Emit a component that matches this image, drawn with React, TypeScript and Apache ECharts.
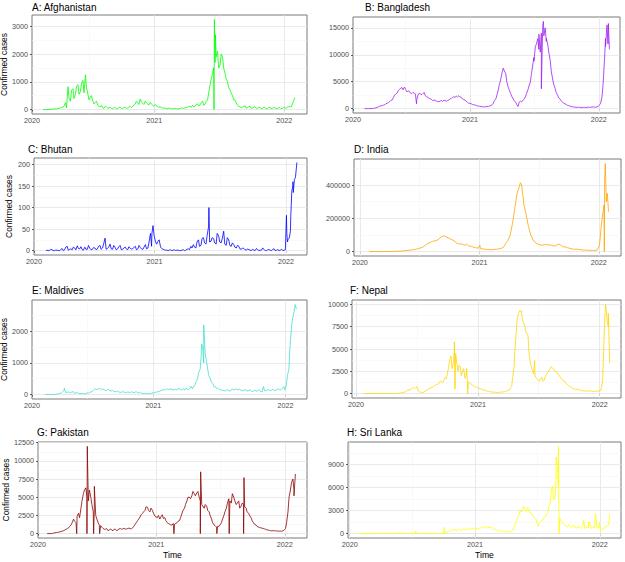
import React, { useEffect, useRef } from "react";
import * as echarts from "echarts";

// ---------- data ----------
// weekly readings from 2020-02-24 (step 7 days) and mid-week readings from 2020-02-27 (step 7 days)
const WEEK0 = "2020-02-24";
const MID0 = "2020-02-27";

const afghanistan = [
  0, 1, 2, 5, 10, 20, 30, 60, 90, 250,
  820, 300, 750, 550, 900, 650, 1050, 1250, 550, 450,
  300, 250, 150, 100, 60, 120, 40, 80, 30, 60,
  40, 70, 50, 80, 60, 110, 120, 200, 250, 380,
  220, 300, 200, 260, 150, 180, 110, 100, 60, 50,
  30, 40, 20, 30, 20, 40, 50, 60, 80, 100,
  150, 120, 200, 170, 300, 200, 350, 900, 1300, 1700,
  2100, 1600, 1900, 1300, 1000, 700, 500, 350, 150, 100,
  80, 130, 60, 120, 50, 100, 40, 80, 40, 70,
  30, 90, 40, 60, 30, 70, 40, 60, 90, 120,
  200, 430,
];
const afghanistanMid = [
  0, 1, 3, 8, 15, 25, 45, 70, 120, 60,
  400, 700, 400, 850, 550, 950, 600, 800, 350, 500,
  200, 300, 100, 150, 40, 90, 60, 40, 70, 30,
  80, 40, 60, 40, 90, 70, 160, 300, 180, 280,
  180, 250, 160, 200, 120, 130, 80, 70, 40, 30,
  50, 25, 40, 30, 30, 60, 40, 70, 120, 80,
  100, 180, 130, 250, 150, 280, 600, 1100, 1500, 1900,
  1500, 2000, 1500, 1100, 800, 600, 350, 250, 120, 70,
  120, 50, 100, 40, 90, 50, 70, 30, 80, 30,
  60, 30, 70, 40, 60, 30, 80, 40, 100, 80,
  300,
];
const afghanistanExtra: [string, number][] = [
  ["2021-06-18", 0], ["2021-06-19", 3250], ["2021-06-22", 2700],
];

const bangladesh = [
  0, 0, 1, 5, 3, 10, 100, 250, 450, 550,
  700, 1000, 1300, 1600, 2500, 2900, 3600, 3900, 4000, 3100,
  3200, 2800, 2900, 1700, 2900, 2600, 3000, 2200, 1900, 1700,
  1600, 1400, 1300, 1500, 1600, 1400, 1600, 1900, 2200, 2300,
  2400, 2100, 1700, 1400, 1000, 900, 700, 600, 450, 400,
  350, 350, 400, 550, 1000, 1800, 3500, 5500, 7500, 6500,
  4000, 2800, 1800, 1200, 400, 1400, 1500, 2200, 3500, 5000,
  8300, 11500, 13000, 10500, 15500, 15000, 12000, 9000, 5500, 3800,
  2500, 1800, 1200, 900, 600, 500, 350, 300, 250, 250,
  200, 250, 250, 250, 300, 300, 350, 700, 2200, 9000,
  15500, 11000,
];
const bangladeshMid = [
  0, 0, 2, 4, 8, 50, 150, 350, 500, 650,
  900, 1100, 1500, 2000, 2700, 3300, 3800, 3500, 3600, 3300,
  2900, 3000, 2700, 2500, 2700, 2800, 2400, 2100, 1800, 1500,
  1500, 1300, 1400, 1300, 1500, 1500, 1800, 2100, 2100, 2200,
  2200, 1800, 1600, 1200, 1000, 800, 700, 500, 450, 350,
  350, 400, 500, 700, 1500, 2500, 4500, 6500, 7000, 5000,
  3500, 2300, 1500, 800, 1200, 1300, 1800, 2800, 4200, 6500,
  9500, 12000, 11000, 14000, 13500, 12500, 10500, 7000, 4500, 3000,
  2000, 1500, 1000, 800, 550, 400, 300, 250, 250, 200,
  250, 200, 300, 250, 300, 250, 400, 1000, 4500, 13000,
  12000,
];
const bangladeshExtra: [string, number][] = [
  ["2020-08-02", 900], ["2021-07-01", 8800], ["2021-07-15", 13800], ["2021-07-22", 3700],
  ["2021-07-28", 16200], ["2021-08-05", 13000], ["2022-01-20", 11500], ["2022-01-28", 15800],
];

const bhutan = [
  0, 0, 1, 0, 2, 0, 1, 0, 5, 2,
  10, 3, 2, 6, 11, 4, 2, 8, 3, 5,
  3, 6, 4, 12, 6, 29, 5, 15, 3, 7,
  4, 12, 3, 8, 2, 6, 5, 10, 4, 7,
  3, 14, 6, 40, 58, 20, 22, 8, 3, 1,
  0, 2, 1, 0, 1, 0, 2, 1, 4, 10,
  14, 6, 25, 12, 30, 15, 55, 22, 28, 15,
  34, 18, 45, 12, 25, 10, 14, 6, 10, 3,
  5, 1, 2, 0, 1, 5, 0, 1, 3, 0,
  2, 0, 4, 1, 0, 3, 1, 40, 30, 140,
  165, 205,
];
const bhutanMid = [
  0, 0, 0, 3, 0, 1, 0, 2, 0, 8,
  1, 4, 8, 2, 5, 9, 1, 3, 12, 2,
  7, 2, 10, 3, 15, 3, 8, 4, 12, 2,
  9, 2, 6, 4, 9, 3, 7, 2, 12, 4,
  8, 4, 20, 10, 35, 15, 25, 5, 2, 1,
  1, 0, 2, 1, 0, 1, 0, 3, 2, 6,
  8, 20, 10, 28, 18, 35, 20, 30, 18, 40,
  20, 28, 15, 30, 12, 18, 8, 12, 4, 6,
  2, 4, 1, 3, 0, 2, 1, 6, 0, 2,
  1, 3, 0, 2, 1, 0, 2, 25, 45, 150,
  170,
];
const bhutanExtra: [string, number][] = [
  ["2020-12-25", 40], ["2021-06-01", 100], ["2022-01-02", 82], ["2022-01-05", 20],
  ["2022-01-14", 80], ["2022-01-20", 160], ["2022-01-21", 135],
];

const india = [
  0, 3, 10, 20, 80, 200, 700, 900, 1500, 1800,
  2800, 3600, 5500, 7000, 8500, 10000, 12000, 15000, 18000, 23000,
  29000, 38000, 49000, 54000, 62000, 64000, 68000, 78000, 90000, 95000,
  88000, 82000, 75000, 68000, 58000, 48000, 46000, 45000, 38000, 44000,
  33000, 32000, 26000, 23000, 20000, 18000, 16000, 14000, 13000, 12000,
  11000, 13000, 14000, 16000, 19000, 26000, 47000, 68000, 100000, 170000,
  260000, 350000, 390000, 400000, 280000, 220000, 150000, 100000, 70000, 53000,
  46000, 41000, 38000, 42000, 40000, 41000, 38000, 33000, 36000, 45000,
  42000, 28000, 29000, 23000, 20000, 16000, 14000, 15000, 12000, 11000,
  9000, 9000, 8000, 8000, 7000, 6500, 10000, 35000, 180000, 280000,
  300000, 240000,
];
const indiaMid: number[] = [];
const indiaExtra: [string, number][] = [
  ["2021-01-02", 38000], ["2021-05-06", 414000], ["2022-01-15", 250000], ["2022-01-18", 0],
  ["2022-01-19", 440000], ["2022-01-21", 530000], ["2022-01-27", 350000],
];

const maldives = [
  0, 0, 2, 5, 3, 2, 5, 20, 40, 100,
  60, 80, 50, 90, 50, 40, 30, 20, 30, 40,
  80, 140, 170, 180, 150, 160, 120, 150, 110, 100,
  90, 80, 70, 80, 60, 70, 90, 60, 80, 50,
  40, 30, 35, 30, 40, 60, 80, 100, 130, 150,
  180, 160, 140, 170, 150, 180, 160, 140, 170, 200,
  180, 320, 500, 800, 1500, 1300, 800, 500, 350, 250,
  200, 150, 130, 110, 140, 120, 160, 180, 150, 140,
  120, 150, 110, 130, 100, 120, 150, 90, 250, 110,
  150, 120, 150, 140, 170, 160, 250, 300, 800, 2100,
  2600, 2700,
];
const maldivesMid = [
  0, 0, 3, 4, 2, 4, 10, 30, 60, 150,
  70, 60, 80, 40, 60, 30, 40, 30, 50, 60,
  100, 170, 150, 200, 170, 140, 160, 120, 130, 90,
  100, 70, 90, 60, 80, 60, 70, 80, 50, 70,
  30, 40, 30, 40, 50, 70, 90, 120, 160, 140,
  160, 200, 150, 150, 190, 140, 170, 200, 160, 260,
  250, 400, 700, 1200, 1000, 1100, 600, 400, 250, 200,
  160, 140, 120, 150, 110, 170, 140, 160, 170, 130,
  140, 110, 150, 90, 140, 100, 130, 80, 120, 150,
  130, 160, 120, 180, 140, 200, 150, 600, 1500, 2400,
  2800,
];
const maldivesExtra: [string, number][] = [
  ["2020-04-30", 200], ["2021-05-14", 1600], ["2021-05-20", 2200], ["2022-01-27", 2850],
];

const nepal = [
  0, 0, 0, 0, 1, 0, 2, 1, 5, 3,
  20, 50, 80, 150, 300, 400, 500, 650, 700, 300,
  150, 120, 300, 400, 600, 700, 900, 1000, 1200, 1300,
  1500, 1700, 3000, 4200, 3500, 4500, 2500, 3000, 2500, 1700,
  1500, 1200, 1000, 800, 700, 600, 500, 450, 300, 250,
  200, 150, 150, 100, 150, 180, 200, 300, 400, 800,
  3000, 7000, 9000, 9200, 8000, 7000, 6500, 3500, 2500, 2000,
  1600, 1400, 1800, 1500, 2200, 2600, 3000, 2700, 2500, 2200,
  1800, 1500, 1300, 1000, 800, 600, 500, 500, 400, 350,
  300, 300, 250, 300, 250, 250, 300, 300, 1500, 9000,
  8000, 3400,
];
const nepalMid = [
  0, 0, 0, 1, 0, 1, 0, 3, 2, 10,
  30, 60, 120, 200, 350, 450, 600, 550, 750, 200,
  120, 200, 350, 500, 650, 800, 950, 1100, 1400, 1200,
  1800, 2200, 3800, 2800, 4800, 3500, 3200, 2000, 2800, 2000,
  1300, 1100, 900, 750, 650, 550, 400, 350, 280, 220,
  180, 170, 120, 130, 160, 190, 250, 350, 600, 1800,
  5000, 8500, 9300, 8500, 7800, 6800, 4500, 3000, 2200, 1800,
  1500, 1700, 1400, 1900, 2400, 2800, 2900, 2600, 2300, 2000,
  1600, 1400, 1100, 900, 700, 550, 450, 450, 350, 300,
  280, 280, 300, 260, 230, 280, 250, 600, 5000, 10000,
  7500,
];
const nepalExtra: [string, number][] = [
  ["2020-10-22", 5800], ["2020-10-24", 500], ["2020-11-28", 2800], ["2020-12-01", 0],
  ["2021-05-12", 9300], ["2021-06-20", 3700], ["2022-01-14", 5000], ["2022-01-19", 10000],
  ["2022-01-27", 9000],
];

const pakistan = [
  0, 5, 10, 80, 150, 200, 300, 400, 600, 800,
  1200, 2000, 1500, 2800, 3500, 5500, 6300, 4500, 5000, 3000,
  2500, 1500, 1100, 700, 600, 400, 650, 400, 600, 500,
  700, 650, 600, 700, 700, 800, 1300, 1800, 2300, 2800,
  3200, 3600, 3000, 3200, 2400, 2200, 2000, 2600, 2200, 1500,
  1300, 1200, 1300, 1500, 1800, 2800, 3500, 4500, 5000, 5200,
  5500, 5600, 5000, 4000, 3500, 3800, 3000, 2000, 1200, 900,
  1000, 1500, 2500, 3500, 4800, 4200, 5000, 4000, 4500, 3800,
  4000, 3500, 2800, 2200, 1500, 1200, 900, 800, 700, 600,
  500, 400, 400, 350, 350, 350, 400, 700, 3000, 6000,
  7500, 8200,
];
const pakistanMid = [
  0, 10, 30, 120, 180, 250, 350, 500, 700, 1000,
  1500, 1700, 2400, 2200, 4500, 6000, 5000, 6000, 4000, 3500,
  2000, 1200, 900, 600, 700, 500, 500, 600, 400, 650,
  600, 750, 650, 750, 650, 1000, 1500, 2000, 2600, 3000,
  3700, 3200, 3500, 2800, 2300, 2500, 2300, 2100, 1800, 1400,
  1200, 1400, 1400, 1700, 2200, 3200, 4000, 5000, 4800, 5800,
  5200, 5800, 4500, 3800, 4000, 3200, 2500, 1500, 1100, 1000,
  1200, 2000, 3000, 4200, 4500, 5500, 4500, 4200, 3500, 4200,
  3700, 3000, 2500, 1800, 1300, 1000, 850, 750, 650, 500,
  450, 380, 420, 380, 330, 330, 500, 1500, 5000, 7000,
  6000,
];
const pakistanExtra: [string, number][] = [
  ["2020-05-20", 0], ["2020-06-18", 0], ["2020-06-19", 12000], ["2020-06-20", 9200],
  ["2020-07-07", 0], ["2020-07-09", 6500], ["2020-07-24", 0], ["2021-02-20", 0],
  ["2021-05-06", 0], ["2021-05-07", 8500], ["2021-06-22", 0], ["2021-07-27", 0],
  ["2021-09-06", 0], ["2021-09-07", 7700], ["2022-01-27", 5200],
];

const sriLanka = [
  0, 0, 5, 20, 15, 10, 20, 15, 30, 40,
  30, 20, 40, 100, 30, 10, 20, 10, 5, 10,
  20, 10, 5, 5, 10, 5, 5, 10, 5, 5,
  10, 5, 50, 200, 450, 350, 500, 400, 550, 450,
  600, 500, 700, 550, 650, 550, 700, 750, 800, 850,
  900, 800, 700, 550, 400, 350, 300, 250, 250, 200,
  300, 900, 1700, 2500, 2800, 3600, 2900, 3300, 2700, 2300,
  1900, 1000, 1500, 1800, 2200, 2800, 4000, 6200, 4500, 8800,
  2000, 1500, 1100, 900, 1200, 800, 1100, 700, 800, 700,
  1800, 750, 800, 700, 800, 2600, 700, 400, 600, 800,
  1000, 2600,
];
const sriLankaMid = [
  0, 0, 10, 30, 10, 20, 10, 25, 40, 30,
  40, 30, 60, 50, 20, 15, 10, 20, 10, 15,
  60, 10, 5, 10, 5, 10, 5, 5, 10, 5,
  5, 10, 150, 350, 300, 550, 450, 500, 400, 600,
  550, 650, 600, 700, 550, 750, 650, 800, 900, 750,
  800, 850, 600, 500, 350, 400, 250, 300, 200, 250,
  500, 1300, 2200, 3000, 3300, 3100, 3400, 2800, 2400, 2000,
  1500, 1300, 1700, 2100, 2500, 3500, 5500, 4500, 7000, 6000,
  1800, 1300, 1000, 1100, 900, 1000, 800, 900, 750, 850,
  700, 800, 1500, 750, 700, 800, 1000, 500, 700, 900,
  1200,
];
const sriLankaExtra: [string, number][] = [
  ["2020-07-12", 350], ["2020-10-04", 800], ["2021-08-26", 10000], ["2021-09-02", 11400],
  ["2021-09-04", 0], ["2021-11-29", 1500], ["2021-12-31", 1500],
];

const yTicksA = [0, 1000, 2000, 3000];
const yTicksB = [0, 5000, 10000, 15000];
const yTicksC = [0, 50, 100, 150, 200];
const yTicksD = [0, 200000, 400000];
const yTicksE = [0, 1000, 2000];
const yTicksF = [0, 2500, 5000, 7500, 10000];
const yTicksG = [0, 2500, 5000, 7500, 10000, 12500];
const yTicksH = [0, 3000, 6000, 9000];

const yearBreaks = ["2020-01-01", "2021-01-01", "2022-01-01"];
const minorXBreaks = ["2020-07-02", "2021-07-02"];

// ---------- layout / styles ----------
const FONT = "'Liberation Sans', Arial, sans-serif";
const DAY = 86400000;
const t = (s: string) => Date.parse(s + "T00:00:00Z");

type Panel = {
  title: string; color: string; weekly: number[]; mid: number[]; extra: [string, number][]; first: string;
  yTicks: number[]; xMin: string; xMax: string;
  g: { left: number; top: number; width: number; height: number };
  tl: number; tt: number; yName: boolean; xName: boolean;
};

const panels: Panel[] = [
  { title: "A: Afghanistan", color: "#00FF00", weekly: afghanistan, mid: afghanistanMid, extra: afghanistanExtra, first: "2020-02-24", yTicks: yTicksA, xMin: "2020-01-24", xMax: "2022-03-06", g: { left: 32, top: 15, width: 275, height: 99 }, tl: 32, tt: 2, yName: true, xName: false },
  { title: "B: Bangladesh", color: "#A020F0", weekly: bangladesh, mid: bangladeshMid, extra: bangladeshExtra, first: "2020-03-08", yTicks: yTicksB, xMin: "2020-02-04", xMax: "2022-03-02", g: { left: 353, top: 17, width: 267, height: 96 }, tl: 365, tt: 2, yName: false, xName: false },
  { title: "C: Bhutan", color: "#0000FF", weekly: bhutan, mid: bhutanMid, extra: bhutanExtra, first: "2020-03-06", yTicks: yTicksC, xMin: "2020-02-02", xMax: "2022-02-28", g: { left: 34, top: 158, width: 273, height: 97 }, tl: 28, tt: 144, yName: true, xName: false },
  { title: "D: India", color: "#FFA500", weekly: india, mid: indiaMid, extra: indiaExtra, first: "2020-01-30", yTicks: yTicksD, xMin: "2019-12-14", xMax: "2022-03-10", g: { left: 354, top: 159, width: 267, height: 97 }, tl: 354, tt: 144, yName: false, xName: false },
  { title: "E: Maldives", color: "#40E0D0", weekly: maldives, mid: maldivesMid, extra: maldivesExtra, first: "2020-03-08", yTicks: yTicksE, xMin: "2020-02-01", xMax: "2022-03-01", g: { left: 32, top: 300, width: 275, height: 99 }, tl: 32, tt: 285, yName: true, xName: false },
  { title: "F: Nepal", color: "#FFD700", weekly: nepal, mid: nepalMid, extra: nepalExtra, first: "2020-01-24", yTicks: yTicksF, xMin: "2019-12-20", xMax: "2022-03-06", g: { left: 352, top: 300, width: 269, height: 98 }, tl: 350, tt: 285, yName: false, xName: false },
  { title: "G: Pakistan", color: "#8B0000", weekly: pakistan, mid: pakistanMid, extra: pakistanExtra, first: "2020-02-26", yTicks: yTicksG, xMin: "2020-01-31", xMax: "2022-03-05", g: { left: 38, top: 442, width: 269, height: 96 }, tl: 37, tt: 427, yName: true, xName: true },
  { title: "H: Sri Lanka", color: "#FFFF00", weekly: sriLanka, mid: sriLankaMid, extra: sriLankaExtra, first: "2020-01-27", yTicks: yTicksH, xMin: "2019-12-27", xMax: "2022-03-04", g: { left: 348, top: 442, width: 273, height: 96 }, tl: 347, tt: 427, yName: false, xName: true },
];

function build(p: Panel): [number, number][] {
  const f = t(p.first);
  const w0 = t(WEEK0);
  const m0 = t(MID0);
  const pts: [number, number][] = [];
  p.weekly.forEach((v, i) => pts.push([w0 + i * 7 * DAY, v]));
  p.mid.forEach((v, i) => pts.push([m0 + i * 7 * DAY, v]));
  const kept = pts.filter((d) => d[0] > f);
  kept.push([f, 0]);
  p.extra.forEach(([d, v]) => kept.push([t(d), v]));
  kept.sort((a, b) => a[0] - b[0]);
  return kept;
}

function buildOption() {
  const grid: any[] = [], xAxis: any[] = [], yAxis: any[] = [], series: any[] = [], title: any[] = [];
  panels.forEach((p, i) => {
    const data = build(p);
    const maxV = Math.max(...data.map((d) => d[1]));
    const yMin = -0.05 * maxV, yMax = 1.05 * maxV;
    const xMin = t(p.xMin), xMax = t(p.xMax);
    const xLabelVals = [Math.max(xMin, t(yearBreaks[0])), t(yearBreaks[1]), t(yearBreaks[2])];

    grid.push({ ...p.g, show: true, borderColor: "#7a7a7a", borderWidth: 1, backgroundColor: "#fff", containLabel: false, outerBoundsMode: "none" });
    title.push({ text: p.title, left: p.tl, top: p.tt, padding: 0, textStyle: { fontSize: 10, fontWeight: "normal", color: "#000", fontFamily: FONT } });

    xAxis.push({
      type: "value", gridIndex: i, min: xMin, max: xMax, scale: true,
      axisLine: { show: false }, splitLine: { show: false },
      axisTick: { show: true, length: 2, lineStyle: { color: "#333", width: 0.8 }, customValues: xLabelVals },
      axisLabel: { customValues: xLabelVals, formatter: (v: number) => String(new Date(v).getUTCFullYear()), fontSize: 7.2, color: "#4d4d4d", margin: 3, fontFamily: FONT, hideOverlap: false, showMinLabel: true, showMaxLabel: true },
      name: p.xName ? "Time" : "", nameLocation: "middle", nameGap: 12,
      nameTextStyle: { fontSize: 8.6, color: "#000", fontFamily: FONT },
    });
    yAxis.push({
      type: "value", gridIndex: i, min: yMin, max: yMax,
      axisLine: { show: false }, splitLine: { show: false },
      axisTick: { show: true, length: 2, lineStyle: { color: "#333", width: 0.8 }, customValues: p.yTicks },
      axisLabel: { customValues: p.yTicks, formatter: (v: number) => String(v), fontSize: 7.2, color: "#4d4d4d", margin: 4, fontFamily: FONT },
      name: p.yName ? "Confirmed cases" : "", nameLocation: "middle", nameRotate: 90, nameGap: p.g.left - 13,
      nameTextStyle: { fontSize: 8.4, color: "#000", fontFamily: FONT },
    });

    // grid lines
    const major = { color: "#e4e4e4", width: 0.8, type: "solid" };
    const minor = { color: "#f2f2f2", width: 0.5, type: "solid" };
    const lines: any[] = [];
    minorXBreaks.forEach((d) => { const v = t(d); if (v > xMin && v < xMax) lines.push({ xAxis: v, lineStyle: minor }); });
    yearBreaks.forEach((d) => { const v = t(d); if (v > xMin && v < xMax) lines.push({ xAxis: v, lineStyle: major }); });
    const step = p.yTicks[1] - p.yTicks[0];
    for (let v = p.yTicks[0] - step / 2; v < yMax; v += step) if (v > yMin) lines.push({ yAxis: v, lineStyle: minor });
    p.yTicks.forEach((v) => lines.push({ yAxis: v, lineStyle: major }));

    series.push({
      type: "line", xAxisIndex: i, yAxisIndex: i, data: [], silent: true, z: 1,
      markLine: { silent: true, symbol: ["none", "none"], z: 1, animation: false, label: { show: false }, emphasis: { disabled: true }, data: lines },
    });
    series.push({
      type: "line", name: p.title, xAxisIndex: i, yAxisIndex: i, data, z: 3, silent: true,
      showSymbol: false, symbol: "none",
      lineStyle: { color: p.color, width: 0.8 }, itemStyle: { color: p.color },
      emphasis: { disabled: true },
    });
  });
  return { animation: false, backgroundColor: "#fff", title, grid, xAxis, yAxis, series, tooltip: { show: false } };
}

export default function App() {
  const ref = useRef<HTMLDivElement>(null);
  useEffect(() => {
    document.body.style.margin = "0";
    document.documentElement.style.margin = "0";
    if (!ref.current) return;
    const chart = echarts.init(ref.current, null, { renderer: "svg", width: 625, height: 562 });
    chart.setOption(buildOption() as any);
    return () => chart.dispose();
  }, []);
  return <div ref={ref} style={{ position: "relative", width: 625, height: 562, background: "#fff", overflow: "hidden" }} />;
}
